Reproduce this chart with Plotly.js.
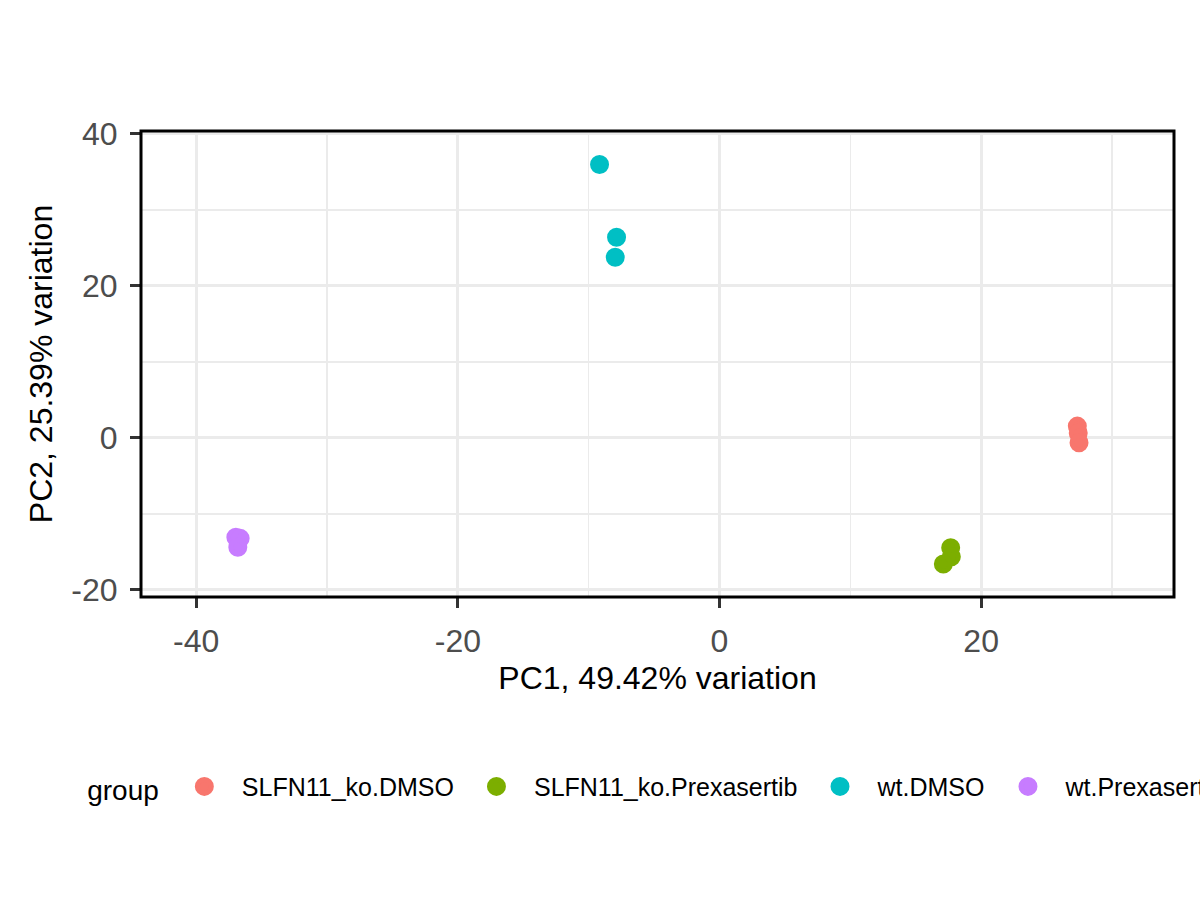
<!DOCTYPE html>
<html>
<head>
<meta charset="utf-8">
<script src="https://cdn.plot.ly/plotly-3.0.1.min.js"></script>
<style>
  html, body { margin: 0; padding: 0; background: #fff; }
  #chart { width: 1200px; height: 900px; }
</style>
</head>
<body>
<div id="chart"></div>
<script>
// PCA scores, one block per group
const groups = ["SLFN11_ko.DMSO", "SLFN11_ko.Prexasertib", "wt.DMSO", "wt.Prexasertib"];
const colours = ["#F8766D", "#7CAE00", "#00BFC4", "#C77CFF"];

const pc1 = [
    [27.35, 27.42, 27.48],
    [17.67, 17.72, 17.11],
    [-9.17, -7.87, -7.97],
    [-36.97, -36.64, -36.82]
];
const pc2 = [
    [1.54, 0.62, -0.66],
    [-14.47, -15.66, -16.62],
    [35.97, 26.41, 23.78],
    [-13.1, -13.24, -14.42]
];

const xTicks = [-40, -20, 0, 20];
const yTicks = [-20, 0, 20, 40];

const xTitle = "PC1, 49.42% variation";
const yTitle = "PC2, 25.39% variation";
const legendTitle = "group";

const FONT = "Liberation Sans, Arial, sans-serif";

let data = [];
for (let i = 0; i < groups.length; i++) {
    data.push({
        x: pc1[i],
        y: pc2[i],
        name: groups[i],
        type: "scatter",
        mode: "markers",
        marker: {
            color: colours[i],
            size: 14,
            line: { color: colours[i], width: 5 }
        },
        hoverinfo: "x+y+name"
    });
}

// ggplot draws plain hyphens, plotly would use a unicode minus
function tickLabels(vals) {
    return vals.map(v => String(v));
}

function axis(range, ticks, title, standoff) {
    return {
        range: range,
        tickmode: "array",
        tickvals: ticks,
        ticktext: tickLabels(ticks),
        showgrid: true,
        gridcolor: "#EBEBEB",
        gridwidth: 3,
        minor: { dtick: 10, tick0: 0, showgrid: true, gridcolor: "#EBEBEB", gridwidth: 1.5, ticks: "" },
        zeroline: false,
        showline: false,
        ticks: "outside",
        ticklen: 10,
        tickwidth: 3,
        tickcolor: "#333333",
        ticklabelstandoff: 6,
        tickfont: { family: FONT, size: 32, color: "#4D4D4D" },
        title: { text: title, font: { family: FONT, size: 32, color: "#000" }, standoff: standoff }
    };
}

const layout = {
    width: 1200,
    height: 900,
    paper_bgcolor: "#fff",
    plot_bgcolor: "#fff",
    margin: { l: 141, r: 26, t: 131, b: 303, autoexpand: false },
    xaxis: axis([-44.22, 34.74], xTicks, xTitle, 8),
    yaxis: axis([-20.96, 40.39], yTicks, yTitle, 9),
    showlegend: true,
    legend: {
        orientation: "h",
        x: -0.054,
        xanchor: "left",
        y: -0.408,
        yanchor: "middle",
        font: { family: FONT, size: 25, color: "#000" },
        title: { text: legendTitle, side: "left", font: { family: FONT, size: 28, color: "#000" } },
        itemwidth: 65,
        bgcolor: "rgba(0,0,0,0)"
    },
    shapes: [{
        type: "rect",
        xref: "paper", yref: "paper",
        x0: 0, x1: 1, y0: 0, y1: 1,
        line: { color: "#000", width: 3 },
        fillcolor: "rgba(0,0,0,0)"
    }]
};

Plotly.newPlot("chart", data, layout, { staticPlot: true });
</script>
</body>
</html>
